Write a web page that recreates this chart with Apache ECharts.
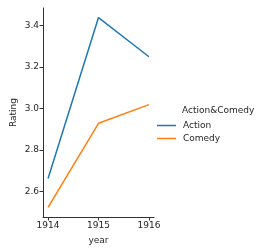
<!DOCTYPE html>
<html><head><meta charset="utf-8">
<script src="https://cdn.jsdelivr.net/npm/echarts@6/dist/echarts.min.js"></script>
<style>html,body{margin:0;padding:0;background:#fff}#c{width:273px;height:251px}</style>
</head><body><div id="c"></div>
<script>
var years = [1914, 1915, 1916];
var action = [2.663, 3.439, 3.25];
var comedy = [2.523, 2.929, 3.019];
var yTicks = [2.6, 2.8, 3.0, 3.2, 3.4];
var seriesNames = ['Action', 'Comedy'];
var legendTitle = 'Action&Comedy';

var font = 'DejaVu Sans';
var txt = '#262626';
var chart = echarts.init(document.getElementById('c'), null, {renderer: 'canvas'});
chart.setOption({
  animation: false,
  backgroundColor: '#fff',
  textStyle: {fontFamily: font},
  title: {
    text: legendTitle, left: 177, top: 101,
    textStyle: {fontFamily: font, fontSize: 9, fontWeight: 'normal', color: txt}
  },
  legend: {
    orient: 'vertical', left: 152, top: 116, itemGap: 4,
    itemWidth: 19, itemHeight: 1.5, icon: 'rect',
    textStyle: {fontFamily: font, fontSize: 9, color: txt, padding: [0, 0, 0, 2]},
    data: seriesNames
  },
  grid: {left: 43, top: 8, width: 111, height: 209, containLabel: false},
  xAxis: {
    type: 'value', min: 1913.9, max: 1916.1,
    name: 'year', nameLocation: 'middle', nameGap: 19,
    nameTextStyle: {fontFamily: font, fontSize: 9, color: txt},
    axisLine: {show: true, lineStyle: {color: '#333', width: 1}},
    axisTick: {show: true, length: 3.5, customValues: years, lineStyle: {color: '#333'}},
    axisLabel: {customValues: years, fontFamily: font, fontSize: 9, color: txt, margin: 4,
      formatter: function (v) { return String(Math.round(v)); }},
    splitLine: {show: false}
  },
  yAxis: {
    type: 'value', min: 2.477, max: 3.485,
    name: 'Rating', nameLocation: 'middle', nameGap: 25, nameRotate: 90,
    nameTextStyle: {fontFamily: font, fontSize: 9, color: txt},
    axisLine: {show: true, lineStyle: {color: '#333', width: 1}},
    axisTick: {show: true, length: 3.5, customValues: yTicks, lineStyle: {color: '#333'}},
    axisLabel: {customValues: yTicks, fontFamily: font, fontSize: 9, color: txt, margin: 4,
      formatter: function (v) { return v.toFixed(1); }},
    splitLine: {show: false}
  },
  series: [
    {name: seriesNames[0], type: 'line', showSymbol: false, symbol: 'none',
     data: years.map(function (y, i) { return [y, action[i]]; }),
     color: '#1f77b4', lineStyle: {width: 1.5, color: '#1f77b4'}},
    {name: seriesNames[1], type: 'line', showSymbol: false, symbol: 'none',
     data: years.map(function (y, i) { return [y, comedy[i]]; }),
     color: '#ff7f0e', lineStyle: {width: 1.5, color: '#ff7f0e'}}
  ]
});
</script></body></html>
